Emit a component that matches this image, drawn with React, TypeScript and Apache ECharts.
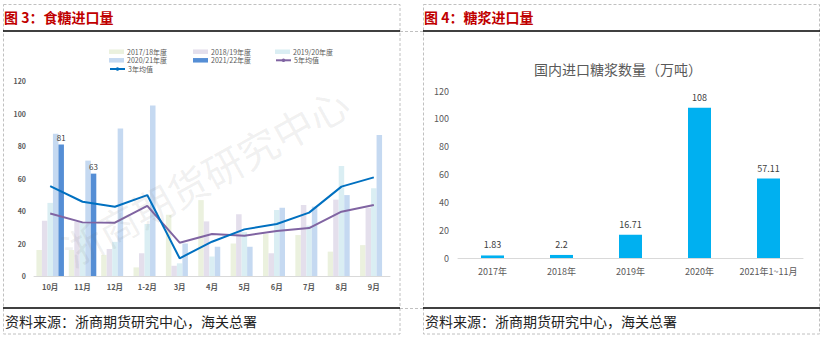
import React, { useEffect, useRef } from 'react';
import * as echarts from 'echarts';

// ---- Left chart: 食糖进口量 ----
const monthCats = ['10月', '11月', '12月', '1-2月', '3月', '4月', '5月', '6月', '7月', '8月', '9月'];
const s1718 = [16, 16, 13, 5.3, 37.7, 46.7, 20, 25.8, 25.2, 15, 19];
const s1819 = [34, 33.4, 16.6, 14, 6.3, 33.6, 38, 14, 43.7, 47, 42];
const s1920 = [45, 33, 21, 32, 7.8, 12, 27, 40.6, 31, 67.7, 54];
const s2021 = [87.5, 71, 90.8, 105, 20, 18, 18, 42, 42.7, 49.8, 86.8];
const s2122 = [81, 63, null, null, null, null, null, null, null, null, null];
const avg3 = [55.3, 45.7, 42.6, 49.8, 10.9, 21.1, 28.7, 32, 39, 55, 60.7];
const avg5 = [38.5, 33, 32.8, 43.2, 20.5, 25.8, 24.8, 27.7, 29.5, 39.6, 43.7];

// ---- Right chart: 糖浆进口量 ----
const syrupCats = ['2017年', '2018年', '2019年', '2020年', '2021年1~11月'];
const syrupVals = [1.83, 2.2, 16.71, 108, 57.11];

const FONT = '"Noto Sans CJK SC", "Liberation Sans", sans-serif';
const GREY = '#595959';

export default function App() {
  const ref = useRef<HTMLDivElement>(null);
  useEffect(() => {
    document.body.style.margin = '0';
    const chart = echarts.init(ref.current!, null, { renderer: 'svg' });

    const barBase = {
      type: 'bar',
      xAxisIndex: 0,
      yAxisIndex: 0,
      barGap: '0%',
      barCategoryGap: '15%',
    };

    const legendItem = (name: string, left: number, top: number, icon?: string) => ({
      left,
      top,
      data: [icon ? { name, icon } : { name }],
      itemWidth: 15,
      itemHeight: 4.5,
      padding: 0,
      textStyle: {
        fontSize: 7,
        lineHeight: 7,
        color: GREY,
        fontFamily: FONT,
        padding: [0, 0, 0, -2],
      },
    });

    const option: any = {
      animation: false,
      textStyle: { fontFamily: FONT },
      legend: [
        legendItem('2017/18年度', 109, 48.2, 'rect'),
        legendItem('2018/19年度', 193, 48.2, 'rect'),
        legendItem('2019/20年度', 275, 48.2, 'rect'),
        legendItem('2020/21年度', 109, 56.8, 'rect'),
        legendItem('2021/22年度', 193, 56.8, 'rect'),
        legendItem('5年均值', 275, 56.8),
        legendItem('3年均值', 109, 65.5),
      ],
      grid: [
        { left: 34, right: 433, top: 81, bottom: 62 },
        { left: 458, right: 20, top: 91, bottom: 80 },
      ],
      xAxis: [
        {
          gridIndex: 0,
          type: 'category',
          data: monthCats,
          axisTick: { show: false },
          axisLine: { lineStyle: { color: '#D9D9D9' } },
          axisLabel: { fontSize: 7.5, color: GREY, fontWeight: 'bold', margin: 7, interval: 0 },
        },
        {
          gridIndex: 1,
          type: 'category',
          data: syrupCats,
          axisTick: { show: false },
          axisLine: { lineStyle: { color: '#D9D9D9' } },
          axisLabel: { fontSize: 9, color: GREY, margin: 9, interval: 0 },
        },
      ],
      yAxis: [
        {
          gridIndex: 0,
          type: 'value',
          min: 0,
          max: 120,
          interval: 20,
          splitLine: { show: false },
          axisLine: { show: false },
          axisTick: { show: false },
          axisLabel: { fontSize: 7, color: GREY, fontWeight: 'bold', margin: 8 },
        },
        {
          gridIndex: 1,
          type: 'value',
          min: 0,
          max: 120,
          interval: 20,
          splitLine: { show: false },
          axisLine: { show: false },
          axisTick: { show: false },
          axisLabel: { fontSize: 9, color: GREY, margin: 9 },
        },
      ],
      series: [
        { ...barBase, name: '2017/18年度', data: s1718, itemStyle: { color: '#EBF1DE' } },
        { ...barBase, name: '2018/19年度', data: s1819, itemStyle: { color: '#E4DFEC' } },
        { ...barBase, name: '2019/20年度', data: s1920, itemStyle: { color: '#DAEEF3' } },
        { ...barBase, name: '2020/21年度', data: s2021, itemStyle: { color: '#C5D9F1' } },
        {
          ...barBase,
          name: '2021/22年度',
          data: s2122,
          itemStyle: { color: '#558ED5' },
          label: { show: true, position: 'top', fontSize: 8, color: '#404040', distance: 3 },
        },
        {
          type: 'line',
          name: '5年均值',
          xAxisIndex: 0,
          yAxisIndex: 0,
          data: avg5,
          symbol: 'none',
          lineStyle: { color: '#8064A2', width: 2 },
          itemStyle: { color: '#8064A2' },
          z: 3,
        },
        {
          type: 'line',
          name: '3年均值',
          xAxisIndex: 0,
          yAxisIndex: 0,
          data: avg3,
          symbol: 'none',
          lineStyle: { color: '#0070C0', width: 2 },
          itemStyle: { color: '#0070C0' },
          z: 4,
        },
        {
          type: 'bar',
          name: '糖浆进口量',
          xAxisIndex: 1,
          yAxisIndex: 1,
          data: syrupVals,
          barWidth: 23,
          itemStyle: { color: '#00B0F0' },
          label: { show: true, position: 'top', fontSize: 9, color: '#404040', distance: 6 },
        },
      ],
      graphic: [
        // watermark
        {
          type: 'text',
          x: 205,
          y: 176,
          rotation: (29 * Math.PI) / 180,
          z: 10,
          silent: true,
          style: {
            text: '浙商期货研究中心',
            fontSize: 40,
            fontFamily: FONT,
            fill: 'rgba(110,110,110,0.10)',
            align: 'center',
            verticalAlign: 'middle',
          },
        },
        // frames
        {
          type: 'rect',
          shape: { x: 3.5, y: 4.5, width: 396.5, height: 329.5 },
          style: { fill: 'none', stroke: '#C0C0C0', lineWidth: 1, lineDash: [3, 2] },
          z: -20,
        },
        {
          type: 'rect',
          shape: { x: 423.5, y: 4.5, width: 396, height: 329.5 },
          style: { fill: 'none', stroke: '#C0C0C0', lineWidth: 1, lineDash: [3, 2] },
          z: -20,
        },
        {
          type: 'line',
          shape: { x1: 400, y1: 31.5, x2: 423, y2: 31.5 },
          style: { stroke: '#C0C0C0', lineWidth: 1, lineDash: [3, 2] },
          z: -20,
        },
        {
          type: 'line',
          shape: { x1: 400, y1: 308.5, x2: 423, y2: 308.5 },
          style: { stroke: '#C0C0C0', lineWidth: 1, lineDash: [3, 2] },
          z: -20,
        },
        { type: 'line', shape: { x1: 3, y1: 31, x2: 400, y2: 31 }, style: { stroke: '#000', lineWidth: 1.5 } },
        { type: 'line', shape: { x1: 423, y1: 31, x2: 820, y2: 31 }, style: { stroke: '#000', lineWidth: 1.5 } },
        { type: 'line', shape: { x1: 3, y1: 308, x2: 400, y2: 308 }, style: { stroke: '#000', lineWidth: 1.5 } },
        { type: 'line', shape: { x1: 423, y1: 308, x2: 820, y2: 308 }, style: { stroke: '#000', lineWidth: 1.5 } },
        // titles
        {
          type: 'text',
          x: 4,
          y: 17,
          style: {
            text: '图 3：食糖进口量',
            fontSize: 14,
            fontWeight: 'bold',
            fontFamily: FONT,
            fill: '#C00000',
            verticalAlign: 'middle',
          },
        },
        {
          type: 'text',
          x: 424,
          y: 17,
          style: {
            text: '图 4：糖浆进口量',
            fontSize: 14,
            fontWeight: 'bold',
            fontFamily: FONT,
            fill: '#C00000',
            verticalAlign: 'middle',
          },
        },
        {
          type: 'text',
          x: 618,
          y: 69,
          style: {
            text: '国内进口糖浆数量（万吨）',
            fontSize: 14,
            fontFamily: FONT,
            fill: GREY,
            align: 'center',
            verticalAlign: 'middle',
          },
        },
        // sources
        {
          type: 'text',
          x: 5,
          y: 321,
          style: {
            text: '资料来源：浙商期货研究中心，海关总署',
            fontSize: 14,
            fontFamily: FONT,
            fill: '#222',
            verticalAlign: 'middle',
          },
        },
        {
          type: 'text',
          x: 425,
          y: 321,
          style: {
            text: '资料来源：浙商期货研究中心，海关总署',
            fontSize: 14,
            fontFamily: FONT,
            fill: '#222',
            verticalAlign: 'middle',
          },
        },
      ],
    };

    chart.setOption(option);
    return () => chart.dispose();
  }, []);

  return (
    <div
      ref={ref}
      style={{ position: 'absolute', left: 0, top: 0, width: 823, height: 338, background: '#fff' }}
    />
  );
}
